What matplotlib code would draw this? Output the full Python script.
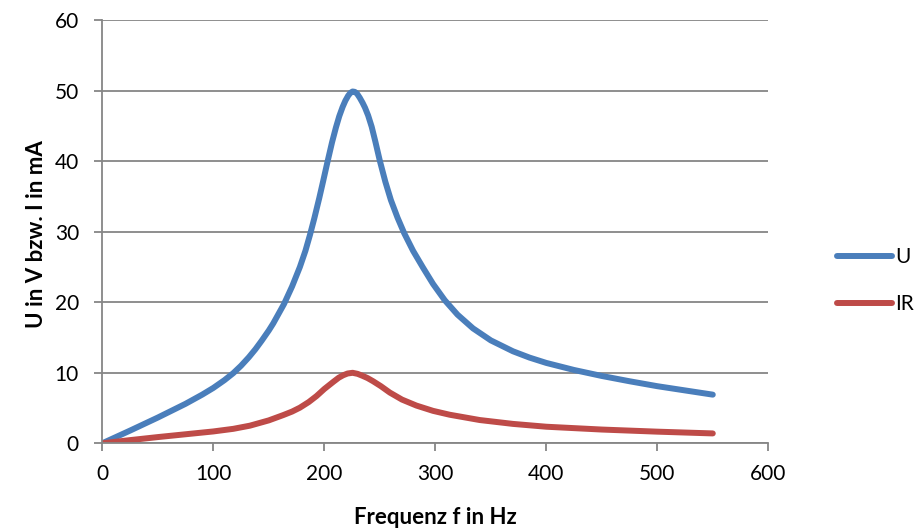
import matplotlib
matplotlib.use("Agg")
import matplotlib.pyplot as plt

f_u = [0, 25, 50, 75, 90, 100, 110, 118, 125, 132, 138, 143.6, 150, 154, 163.7,
       171, 178, 183, 187, 191, 195.5, 199, 203, 207, 210.5, 213.5, 216.5, 219,
       221.5, 223.5, 225.5, 227.5, 229.5, 232, 234.5, 236.7, 239.5, 242.7, 246,
       250, 255, 260, 266, 272, 280, 289, 298, 308.5, 320, 334, 350, 370, 385,
       400, 425, 450, 475, 500, 525, 550]
u = [0, 1.8, 3.65, 5.6, 6.9, 7.85, 8.95, 9.95, 11.0, 12.2, 13.35, 14.55, 16.0, 17.0, 19.75,
     22.25, 25.0, 27.3, 29.5, 31.9, 34.8, 37.2, 40.0, 42.7, 44.8, 46.4, 47.7, 48.6,
     49.3, 49.7, 49.9, 49.85, 49.6, 49.0, 48.3, 47.6, 46.5, 44.9, 42.8,
     40.1, 37.1, 34.5, 32.0, 29.8, 27.3, 24.9, 22.6, 20.3, 18.25, 16.3, 14.6, 13.05, 12.15,
     11.4, 10.4, 9.55, 8.8, 8.1, 7.5, 6.9]

# IR in mA
f_i = [0, 25, 50, 75, 100, 118, 133, 150, 163, 171, 178, 186, 193, 200, 208,
       213, 217, 221, 225.5, 230, 234, 239, 244, 251, 259, 270, 283, 298, 313,
       340, 370, 400, 450, 500, 550]
ir = [0, 0.45, 0.88, 1.28, 1.68, 2.05, 2.5, 3.25, 4.0, 4.5, 5.05, 5.85, 6.7, 7.7, 8.7,
      9.3, 9.65, 9.9, 10.0, 9.85, 9.6, 9.25, 8.8, 8.1, 7.2, 6.2, 5.35, 4.6, 4.05,
      3.3, 2.75, 2.35, 1.95, 1.65, 1.4]

x_ticks = [0, 100, 200, 300, 400, 500, 600]
y_ticks = [0, 10, 20, 30, 40, 50, 60]

plt.rcParams['font.family'] = ['Lato', 'DejaVu Sans']

fig = plt.figure(figsize=(9.19, 5.30), dpi=100)
ax = fig.add_axes([0.1113, 0.1636, 0.7247, 0.7981])

gray = "#868686"
ax.plot(f_u, u, color="#4A7EBB", linewidth=4.3, solid_capstyle="round",
        solid_joinstyle="round", label="U")
ax.plot(f_i, ir, color="#BE4B48", linewidth=4.3, solid_capstyle="round",
        solid_joinstyle="round", label="IR")

ax.set_xlim(0, 600)
ax.set_ylim(0, 60)
ax.set_xticks(x_ticks)
ax.set_yticks(y_ticks)
ax.grid(axis="y", color=gray, linewidth=1.3)
ax.set_axisbelow(True)

for s in ["top", "right"]:
    ax.spines[s].set_visible(False)
for s in ["left", "bottom"]:
    ax.spines[s].set_color(gray)
    ax.spines[s].set_linewidth(1.3)

ax.tick_params(axis="both", colors=gray, labelcolor="black", labelsize=15,
               length=5.8, width=1.3, direction="out")
ax.tick_params(axis="x", pad=9)
ax.tick_params(axis="y", pad=11)

ax.set_xlabel("Frequenz f in Hz", fontsize=16, fontweight="bold")
ax.set_ylabel("U in V bzw. I in mA", fontsize=16, fontweight="bold")
ax.xaxis.set_label_coords(0.5, -0.15)
ax.yaxis.set_label_coords(-0.083, 0.495)

leg = fig.legend(loc="center left", bbox_to_anchor=(0.899, 0.471), frameon=False,
                 fontsize=15, handlelength=2.65, handletextpad=0.15, labelspacing=1.3,
                 borderpad=0)

fig.savefig("out.png", dpi=100)
